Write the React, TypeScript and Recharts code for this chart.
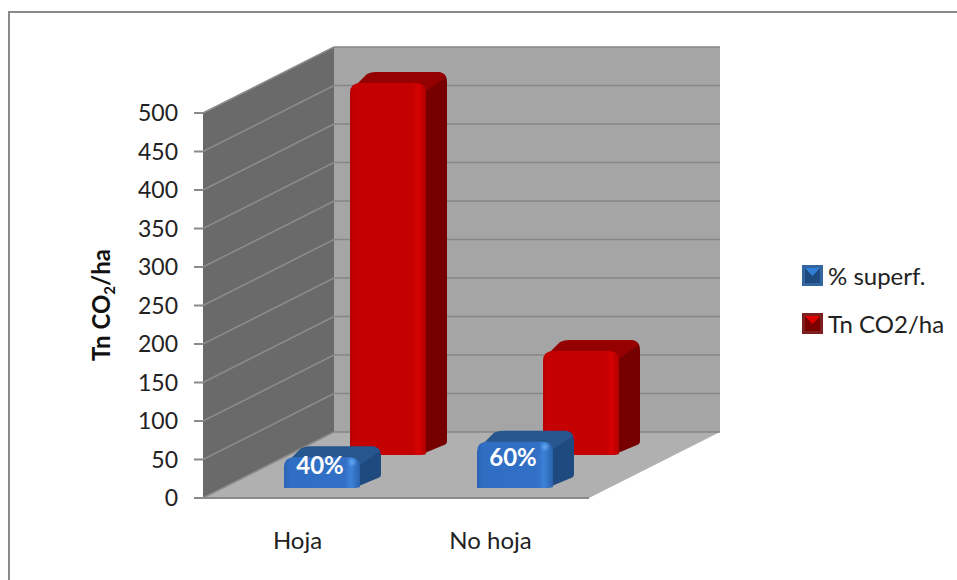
import { BarChart, Bar, XAxis, YAxis, CartesianGrid, Legend, LabelList, ReferenceArea } from "recharts";

const categories = ["Hoja", "No hoja"];
const superficie = [40, 60];
const toneladas = [483, 135];
const yTicks = [0, 50, 100, 150, 200, 250, 300, 350, 400, 450, 500];

const data = categories.map((name, i) => ({
  name,
  superficie: superficie[i],
  toneladas: toneladas[i],
}));

const FONT = "Lato, 'Open Sans', sans-serif";
// depth of the box (back wall offset from the front axis)
const WALL_DX = 131;
const WALL_DY = 66;
const BAR_DX = 21;
const BAR_DY = 11;

const BLUE = { top: "#27568f", side: "#1f4a80", grad: "url(#blueFront)", spot: "url(#blueSpot)" };
const RED = { top: "#950000", side: "#760000", grad: "url(#redFront)", spot: "none" };

function Walls(props: any) {
  const { x, y, width, height } = props;
  const b = y + height;
  const r = x + width;
  return (
    <g>
      <polygon points={`${x},${y} ${x + WALL_DX},${y - WALL_DY} ${x + WALL_DX},${b - WALL_DY} ${x},${b}`} fill="#6a6a6a" />
      <polygon points={`${x + WALL_DX},${y - WALL_DY} ${r + WALL_DX},${y - WALL_DY} ${r + WALL_DX},${b - WALL_DY} ${x + WALL_DX},${b - WALL_DY}`} fill="#a5a5a5" />
      <polygon points={`${x},${b} ${x + WALL_DX},${b - WALL_DY} ${r + WALL_DX},${b - WALL_DY} ${r},${b}`} fill="#b0b0b0" />
    </g>
  );
}

function gridLine(props: any) {
  const { x1, x2, y1, index } = props;
  return (
    <g key={`grid-${index}`}>
      <line x1={x1} y1={y1} x2={x1 + WALL_DX} y2={y1 - WALL_DY} stroke="#8c8c8c" strokeWidth={1.5} />
      <line x1={x1 + WALL_DX} y1={y1 - WALL_DY} x2={x2 + WALL_DX} y2={y1 - WALL_DY} stroke="#868686" strokeWidth={1.5} />
    </g>
  );
}

// 3D column, pushed back into the box by (dx, dy)
function makeBox(colors: typeof BLUE, dx: number, dy: number) {
  return function Box(props: any) {
    const { x: x0, y: y0, width: w, height: h } = props;
    const x = x0 + dx;
    const y = y0 - dy;
    const b = y + h;
    const r = 10;
    const backY = y - BAR_DY;
    const rightX = x + w + BAR_DX;
    return (
      <g>
        <path
          d={`M${x + w - 6},${b} L${rightX - 3},${b - BAR_DY + 1} Q${rightX},${b - BAR_DY} ${rightX},${b - BAR_DY - 3}
              L${rightX},${backY + r} Q${rightX},${backY} ${rightX - r},${backY}
              L${x + w - 6},${y + 4} Z`}
          fill={colors.side}
        />
        <path
          d={`M${x + 3},${y + 5} L${x + BAR_DX - 4},${backY + 2} Q${x + BAR_DX},${backY} ${x + BAR_DX + 5},${backY}
              L${rightX - r},${backY} Q${rightX - 3},${backY} ${rightX - 1},${backY + 5} L${x + w - 2},${y + 9} Z`}
          fill={colors.top}
        />
        <path
          d={`M${x},${b} L${x},${y + r} Q${x},${y} ${x + r},${y} L${x + w - r},${y} Q${x + w},${y} ${x + w},${y + r}
              L${x + w},${b - 1} Q${x + w - 2},${b} ${x + w - 6},${b} Z`}
          fill={colors.grad}
        />
        <circle cx={x + w - 8} cy={y + 5} r={5} fill={colors.spot} />
      </g>
    );
  };
}

function BoxLabel(props: any) {
  const { x, y, width, height, value } = props;
  const cx = x + 22 + width / 2 - 2;
  const top = y - 10 - BAR_DY;
  const cy = (top + y - 10 + height) / 2 - 3;
  return (
    <text x={cx} y={cy} textAnchor="middle" dominantBaseline="central" fontFamily={FONT} fontWeight={700} fontSize={24} fill="#fff">
      {value}%
    </text>
  );
}

function YTitle() {
  return (
    <text transform="translate(110,305) rotate(-90)" textAnchor="middle" fontFamily={FONT} fontWeight={700} fontSize={24} fill="#111">
      Tn CO<tspan fontSize={15} dy={5}>2</tspan><tspan dy={-5}>/ha</tspan>
    </text>
  );
}

function LegendIcon({ color }: { color: string }) {
  const [edge, dark, light] = color === "#2f6fc4" ? ["#33659f", "#1f4a80", "#2f7fd8"] : ["#7d1f1f", "#7a0000", "#e00000"];
  return (
    <svg width={21} height={21} style={{ display: "block" }}>
      <rect width={21} height={21} fill={edge} />
      <rect x={3} y={3} width={15} height={15} fill={dark} />
      <polygon points="3,3 18,3 10.5,11" fill={light} />
    </svg>
  );
}

function LegendBox({ payload }: any) {
  return (
    <div style={{ fontFamily: FONT, fontSize: 24, color: "#222" }}>
      {(payload || []).map((item: any) => (
        <div key={item.value} style={{ display: "flex", alignItems: "center", height: 48, gap: 5 }}>
          <LegendIcon color={item.color} />
          <span>{item.value}</span>
        </div>
      ))}
    </div>
  );
}

export default function App() {
  return (
    <div style={{ position: "fixed", left: 0, top: 0, width: 957, height: 580, background: "#fff", overflow: "hidden" }}>
      <div style={{ position: "absolute", left: 8, top: 11, width: 960, height: 580, borderLeft: "2px solid #8a8a8a", borderTop: "2px solid #8a8a8a" }} />
      <BarChart
        width={957}
        height={580}
        data={data}
        barSize={76}
        barGap={-76}
        margin={{ top: 113, right: 368, bottom: 52, left: 103 }}
      >
        <defs>
          <linearGradient id="blueFront" x1="0" y1="0" x2="1" y2="0">
            <stop offset="0" stopColor="#2a63b4" />
            <stop offset="0.08" stopColor="#306ec3" />
            <stop offset="0.8" stopColor="#3270c5" />
            <stop offset="0.88" stopColor="#3c82d8" />
            <stop offset="1" stopColor="#2a62ac" />
          </linearGradient>
          <linearGradient id="redFront" x1="0" y1="0" x2="1" y2="0">
            <stop offset="0" stopColor="#b80000" />
            <stop offset="0.06" stopColor="#c40000" />
            <stop offset="0.82" stopColor="#c40000" />
            <stop offset="0.9" stopColor="#d60202" />
            <stop offset="1" stopColor="#b00000" />
          </linearGradient>
          <radialGradient id="blueSpot">
            <stop offset="0" stopColor="#62a8f0" />
            <stop offset="1" stopColor="#62a8f0" stopOpacity={0} />
          </radialGradient>
        </defs>
        <ReferenceArea y1={0} y2={500} shape={Walls} fillOpacity={1} ifOverflow="visible" zIndex={-200} />
        <CartesianGrid vertical={false} horizontal={gridLine as any} syncWithTicks />
        <XAxis
          dataKey="name"
          stroke="#8a8a8a"
          strokeWidth={2}
          tickLine={false}
          tickMargin={28}
          tick={{ fontFamily: FONT, fontSize: 24, fill: "#222", dx: -2 }}
        />
        <YAxis
          width={100}
          domain={[0, 500]}
          ticks={yTicks}
          interval={0}
          axisLine={false}
          tickSize={9}
          tickMargin={16}
          tickLine={{ stroke: "#8a8a8a", strokeWidth: 2 }}
          tick={{ fontFamily: FONT, fontSize: 23, fill: "#222" }}
          label={<YTitle />}
        />
        <Legend
          layout="vertical"
          align="center"
          verticalAlign="middle"
          wrapperStyle={{ left: 802, top: 251, width: 155, bottom: "auto", right: "auto" }}
          content={<LegendBox />}
        />
        <Bar dataKey="toneladas" name="Tn CO2/ha" fill="#c40000" shape={makeBox(RED, 88, 43)} isAnimationActive={false} />
        <Bar dataKey="superficie" name="% superf." fill="#2f6fc4" shape={makeBox(BLUE, 22, 10)} isAnimationActive={false}>
          <LabelList dataKey="superficie" content={<BoxLabel />} />
        </Bar>
      </BarChart>
    </div>
  );
}
